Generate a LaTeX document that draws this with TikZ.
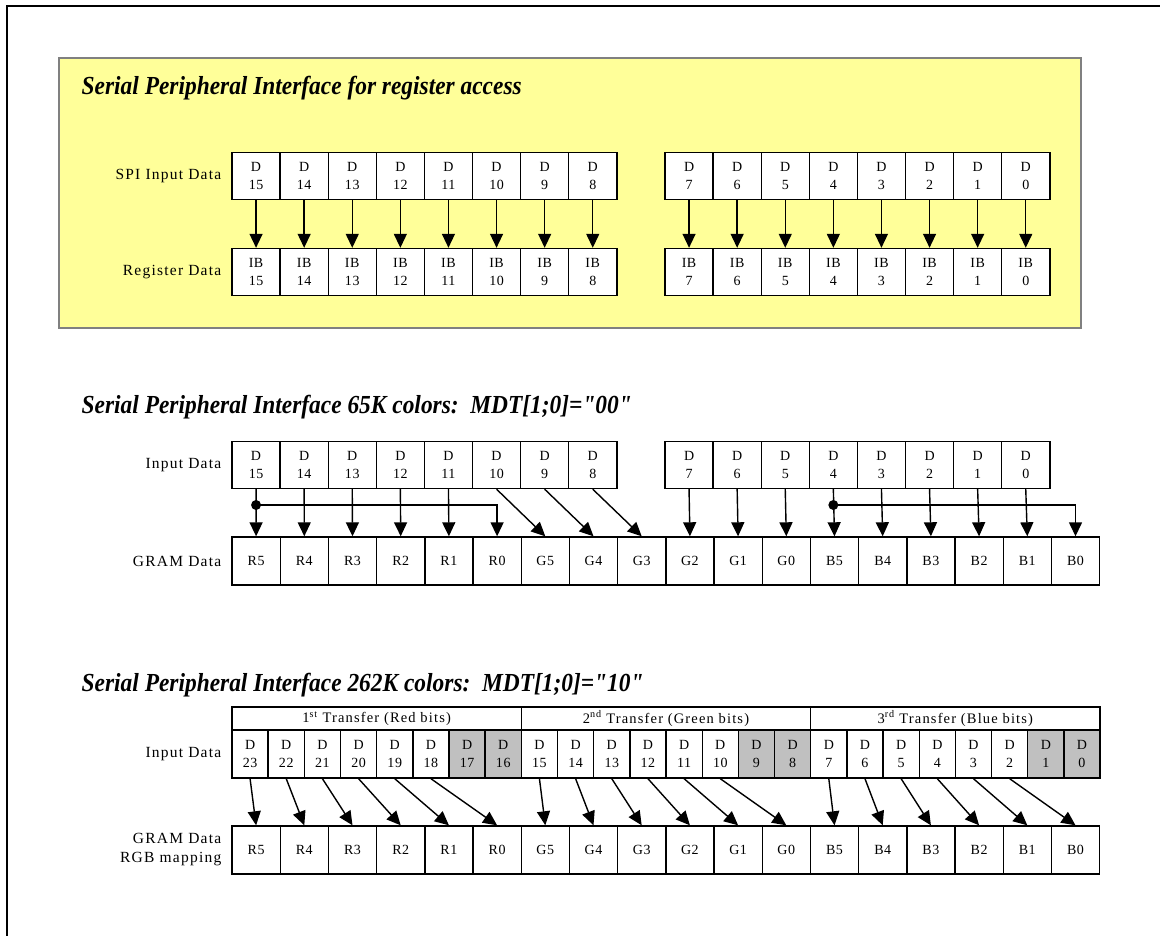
\documentclass[tikz,border=0pt]{standalone}
\usepackage{graphicx}
\usepackage{fontspec}
\setmainfont{Liberation Serif}
\usetikzlibrary{arrows.meta}

\definecolor{padyellow}{HTML}{FFFF99}
\definecolor{bitgray}{HTML}{C0C0C0}
\newcommand{\spititle}[1]{\scalebox{0.9}[1]{\fontsize{26}{30}\selectfont\bfseries\itshape #1}}

\begin{document}
\begin{tikzpicture}[x=1pt, y=-1pt, line width=1.4pt,
  >={Triangle[length=14pt,width=13pt]},
  cell/.style={draw, fill=white, minimum width=48.1pt, minimum height=47pt,
    inner sep=0pt, align=center, font=\fontsize{14}{18}\selectfont\addfontfeature{LetterSpace=4}},
  tcell/.style={cell, minimum width=36.17pt, minimum height=48pt},
  gcell/.style={cell, minimum width=48.2pt, minimum height=48pt},
  hcell/.style={cell, minimum width=289.33pt, minimum height=23pt,
    font=\fontsize{14.5}{16}\selectfont\addfontfeature{LetterSpace=8}},
  lbl/.style={anchor=east, inner sep=0pt, align=right,
    font=\fontsize{15.5}{19}\selectfont\addfontfeature{LetterSpace=8}}]
\useasboundingbox (0,0) rectangle (1160,936);

\draw[line width=2pt] (7,936) -- (7,6) -- (1160,6);
\draw[fill=padyellow, draw=gray] (59,58) rectangle (1081,328);

% register access
\node[anchor=base west, inner sep=0pt] (title1) at (81,95)
  {\spititle{Serial Peripheral Interface for register access}};
\node[lbl] (spiin) at (222,176) {SPI Input Data};
\node[lbl] (regdat) at (222,272) {Register Data};
\foreach \i in {0,...,7}{
  \pgfmathtruncatemacro\n{15-\i}
  \pgfmathtruncatemacro\m{7-\i}
  \node[cell] (sa\n) at (256.05+48.1*\i,176) {D\\\n};
  \node[cell] (sb\n) at (256.05+48.1*\i,272) {IB\\\n};
  \node[cell] (sa\m) at (689.05+48.1*\i,176) {D\\\m};
  \node[cell] (sb\m) at (689.05+48.1*\i,272) {IB\\\m};
  \draw[->] (sa\n) -- (sb\n);
  \draw[->] (sa\m) -- (sb\m);
}

% 65K colors
\node[anchor=base west, inner sep=0pt] (title2) at (81,413)
  {\spititle{Serial Peripheral Interface 65K colors:\ \ MDT[1;0]=\textquotedbl 00\textquotedbl}};
\node[lbl] (in65) at (222,465) {Input Data};
\node[lbl] (gram65) at (222,561) {GRAM Data};
\foreach \i in {0,...,7}{
  \pgfmathtruncatemacro\n{15-\i}
  \pgfmathtruncatemacro\m{7-\i}
  \node[cell] (ma\n) at (256.05+48.1*\i,465) {D\\\n};
  \node[cell] (ma\m) at (689.05+48.1*\i,465) {D\\\m};
}
\foreach \lab [count=\j from 0] in {R5,R4,R3,R2,R1,R0,G5,G4,G3,G2,G1,G0,B5,B4,B3,B2,B1,B0}
  \node[gcell] (mg\j) at (256.1+48.2*\j,561) {\lab};
\foreach \n/\j in {15/0,14/1,13/2,12/3,11/4,10/6,9/7,8/8,7/9,6/10,5/11,4/12,3/13,2/14,1/15,0/16}
  \draw[->] (ma\n.south) -- (mg\j.north);
\coordinate (tapline) at (0,505);
\coordinate (tapr) at (ma15.south |- tapline);
\coordinate (tapb) at (ma4.south |- tapline);
\draw[->] (tapr) -| (mg5.north);
\draw[->] (tapb) -| (mg17.north);
\fill (tapr) circle (5pt);
\fill (tapb) circle (5pt);

% 262K colors
\node[anchor=base west, inner sep=0pt] (title3) at (81,691)
  {\spititle{Serial Peripheral Interface 262K colors:\ \ MDT[1;0]=\textquotedbl 10\textquotedbl}};
\node[lbl] (in262) at (222,754) {Input Data};
\node[lbl] (gram262) at (222,850) {GRAM Data\\RGB mapping};
\foreach \t [count=\k from 0] in {{1\textsuperscript{st} Transfer (Red bits)},
    {2\textsuperscript{nd} Transfer (Green bits)},{3\textsuperscript{rd} Transfer (Blue bits)}}
  \node[hcell] (hd\k) at (232+289.33*\k+144.67,718.5) {\t};
\foreach \i in {0,...,23}{
  \pgfmathtruncatemacro\n{23-\i}
  \pgfmathtruncatemacro\g{mod(\i,8)}
  \ifnum\g>5 \def\shade{bitgray}\else\def\shade{white}\fi
  \node[tcell, fill=\shade] (tc\n) at (250.08+36.17*\i,754) {D\\\n};
}
\foreach \lab [count=\j from 0] in {R5,R4,R3,R2,R1,R0,G5,G4,G3,G2,G1,G0,B5,B4,B3,B2,B1,B0}
  \node[gcell] (tg\j) at (256.1+48.2*\j,850) {\lab};
\foreach \i in {0,...,23}{
  \pgfmathtruncatemacro\n{23-\i}
  \pgfmathtruncatemacro\g{mod(\i,8)}
  \pgfmathtruncatemacro\j{6*div(\i,8)+\g}
  \ifnum\g<6 \draw[->] (tc\n.south) -- (tg\j.north);\fi
}
\end{tikzpicture}
\end{document}
